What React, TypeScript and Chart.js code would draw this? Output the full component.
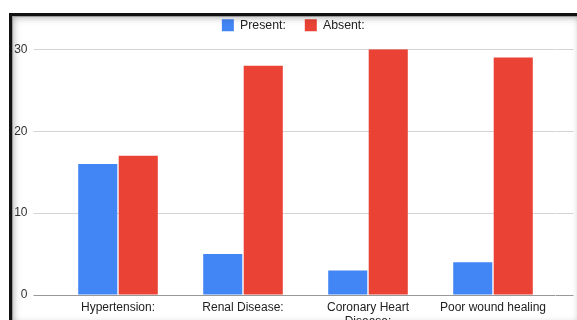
import React, { useEffect, useRef } from 'react';
import { Chart, registerables } from 'chart.js';

Chart.register(...registerables);

const categories: (string | string[])[] = ['Hypertension:', 'Renal Disease:', ['Coronary Heart', 'Disease:'], 'Poor wound healing'];
const presentValues = [16, 5, 3, 4];
const absentValues = [17, 28, 30, 29];
const seriesNames = ['Present:', 'Absent:'];
const yMin = 0;
const yMax = 30;
const yStep = 10;

const FONT = "Arial, 'Liberation Sans', sans-serif";

const legendGap = {
  id: 'legendGap',
  afterInit(chart: any) {
    const legend = chart.legend;
    if (!legend || legend.__patched) return;
    const origFit = legend.fit;
    legend.fit = function (this: any) {
      origFit.call(this);
      this.height += 8;
    };
    legend.__patched = true;
  },
};

export default function App() {
  const canvasRef = useRef<HTMLCanvasElement | null>(null);

  useEffect(() => {
    const canvas = canvasRef.current;
    if (!canvas) return;
    const gridColor = (c: any) => (c.tick && c.tick.value === 0 ? '#999999' : '#d4d4d4');
    const chart = new Chart(canvas, {
      type: 'bar',
      data: {
        labels: categories as any,
        datasets: [
          {
            label: seriesNames[0],
            data: presentValues,
            backgroundColor: '#4285F4',
            categoryPercentage: 0.648,
            barPercentage: 0.965,
          },
          {
            label: seriesNames[1],
            data: absentValues,
            backgroundColor: '#EA4335',
            categoryPercentage: 0.648,
            barPercentage: 0.965,
          },
        ],
      },
      plugins: [legendGap],
      options: {
        animation: false,
        responsive: false,
        maintainAspectRatio: false,
        layout: { padding: { left: 13, right: 3.5, top: 0, bottom: 0 } },
        plugins: {
          legend: {
            position: 'top',
            labels: {
              boxWidth: 12,
              boxHeight: 12,
              padding: 19,
              color: '#222222',
              font: { family: FONT, size: 12.3 },
            },
          },
          tooltip: { enabled: false },
        },
        scales: {
          x: {
            grid: { display: false, drawTicks: false },
            border: { display: false },
            ticks: {
              color: '#222222',
              font: { family: FONT, size: 12 },
              padding: 5,
              maxRotation: 0,
              autoSkip: false,
            },
            afterFit: (s: any) => {
              s.height = 25;
            },
          },
          y: {
            min: yMin,
            max: yMax,
            ticks: { stepSize: yStep, padding: 6, color: '#333333', font: { family: FONT, size: 12 } },
            grid: { color: gridColor, tickLength: 22, drawTicks: true },
            border: { display: false },
            afterFit: (s: any) => {
              s.width = 42.5;
            },
          },
          y2: {
            position: 'right',
            min: yMin,
            max: yMax,
            ticks: { display: false, stepSize: yStep },
            grid: { color: gridColor, drawOnChartArea: false, tickLength: 18, drawTicks: true },
            border: { display: false },
            afterFit: (s: any) => {
              s.width = 18;
            },
          },
        },
      },
    });
    return () => chart.destroy();
  }, []);

  return (
    <div style={{ position: 'fixed', left: 0, top: 0, width: 577, height: 320, overflow: 'hidden', background: '#ffffff' }}>
      <canvas ref={canvasRef} width={577} height={320} style={{ position: 'absolute', left: 0, top: 0, width: 577, height: 320 }} />
      <div
        style={{
          position: 'absolute',
          left: 9,
          top: 13,
          width: 572,
          height: 312,
          borderTop: '3px solid #111',
          borderLeft: '3px solid #111',
          boxShadow: 'inset 1px 1px 0 #9a9a9a, inset 0 0 9px rgba(0,0,0,0.45)',
          pointerEvents: 'none',
          boxSizing: 'border-box',
        }}
      />
    </div>
  );
}
